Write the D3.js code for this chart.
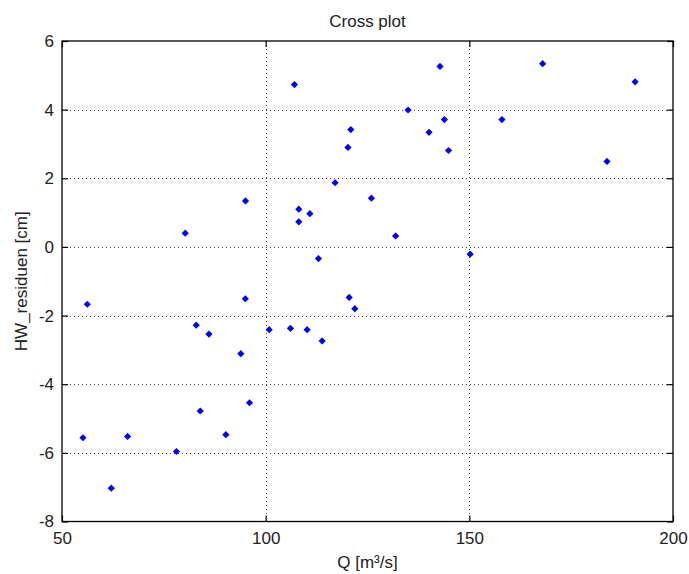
<!DOCTYPE html>
<html>
<head>
<meta charset="utf-8">
<script src="https://cdn.jsdelivr.net/npm/d3@7"></script>
<style>
  html, body { margin: 0; padding: 0; background: #fff; }
  svg { display: block; }
  text { font-family: "Liberation Sans", Arial, Helvetica, sans-serif; fill: #222; }
</style>
</head>
<body>
<svg id="chart" width="689" height="574"></svg>
<script>
// Discharge Q [m³/s] and water-level residual [cm] per event
const qValues = [
  107.07, 120.9, 120.2, 117.05, 95.05, 108.14, 110.85, 108.14, 80.25, 112.96,
  142.8, 168.0, 190.7, 134.96, 143.87, 158.0, 140.1, 144.9, 183.8, 125.96,
  131.9, 150.2, 56.2, 95.0, 82.95, 86.07, 93.9, 100.86, 106.09, 110.18,
  113.86, 120.5, 121.88, 83.93, 96.03, 90.23, 55.15, 66.1, 78.1, 62.1
];
const residuals = [
  4.73, 3.42, 2.90, 1.87, 1.34, 1.10, 0.97, 0.73, 0.40, -0.34,
  5.26, 5.34, 4.81, 3.99, 3.71, 3.71, 3.34, 2.81, 2.49, 1.42,
  0.32, -0.21, -1.67, -1.51, -2.28, -2.54, -3.11, -2.41, -2.37, -2.41,
  -2.74, -1.47, -1.80, -4.78, -4.54, -5.47, -5.56, -5.52, -5.96, -7.03
];
const xTicks = [50, 100, 150, 200];
const yTicks = [-8, -6, -4, -2, 0, 2, 4, 6];

const titleText = "Cross plot";
const xLabel = "Q [m\u00B3/s]";
const yLabel = "HW_residuen [cm]";

const svg = d3.select("#chart");
const plotLeft = 62, plotRight = 673, plotTop = 41, plotBottom = 521.5;
const tickLen = 6;
const fontSize = 17;
const plainNumber = d => String(d);   // hyphen-minus, as in the plot labels

const x = d3.scaleLinear().domain([50, 200]).range([plotLeft, plotRight]);
const y = d3.scaleLinear().domain([-8, 6]).range([plotBottom, plotTop]);

// dotted grid
const grid = svg.append("g")
  .attr("stroke", "#444")
  .attr("stroke-width", 1)
  .attr("stroke-dasharray", "1,3");
grid.selectAll("line.gx").data(xTicks.slice(1, -1)).join("line")
  .attr("class", "gx")
  .attr("x1", d => Math.round(x(d)) + 0.5).attr("x2", d => Math.round(x(d)) + 0.5)
  .attr("y1", plotTop).attr("y2", plotBottom);
grid.selectAll("line.gy").data(yTicks.slice(1, -1)).join("line")
  .attr("class", "gy")
  .attr("y1", d => Math.round(y(d)) + 0.5).attr("y2", d => Math.round(y(d)) + 0.5)
  .attr("x1", plotLeft).attr("x2", plotRight);

// axes: ticks point inward, labels outside
const axisStyle = g => {
  g.select(".domain").remove();
  g.selectAll(".tick line").attr("stroke", "#000").attr("stroke-width", 1.2);
  g.selectAll(".tick text")
    .style("font-size", fontSize + "px")
    .attr("fill", "#222");
};

svg.append("g")
  .attr("transform", `translate(0,${plotBottom})`)
  .call(d3.axisBottom(x).tickValues(xTicks).tickFormat(plainNumber)
    .tickSizeInner(-tickLen).tickSizeOuter(0).tickPadding(10))
  .call(axisStyle);

svg.append("g")
  .attr("transform", `translate(0,${plotTop})`)
  .call(d3.axisTop(x).tickValues(xTicks).tickFormat("")
    .tickSizeInner(-tickLen).tickSizeOuter(0))
  .call(axisStyle);

svg.append("g")
  .attr("transform", `translate(${plotLeft},0)`)
  .call(d3.axisLeft(y).tickValues(yTicks).tickFormat(plainNumber)
    .tickSizeInner(-tickLen).tickSizeOuter(0).tickPadding(8))
  .call(axisStyle);

svg.append("g")
  .attr("transform", `translate(${plotRight},0)`)
  .call(d3.axisRight(y).tickValues(yTicks).tickFormat("")
    .tickSizeInner(-tickLen).tickSizeOuter(0))
  .call(axisStyle);

// axes box
svg.append("rect")
  .attr("x", plotLeft).attr("y", plotTop)
  .attr("width", plotRight - plotLeft).attr("height", plotBottom - plotTop)
  .attr("fill", "none").attr("stroke", "#000").attr("stroke-width", 1.3);

// data points
const points = qValues.map((q, i) => ({ q, r: residuals[i] }));
const marker = d3.symbol().type(d3.symbolSquare).size(26);
svg.append("g").selectAll("path").data(points).join("path")
  .attr("d", marker)
  .attr("transform", d => `translate(${x(d.q)},${y(d.r)}) rotate(45)`)
  .attr("fill", "#0000ff");

// title and axis labels
svg.append("text")
  .attr("x", (plotLeft + plotRight) / 2).attr("y", 27)
  .attr("text-anchor", "middle")
  .style("font-size", fontSize + "px")
  .text(titleText);

svg.append("text")
  .attr("x", (plotLeft + plotRight) / 2).attr("y", 568)
  .attr("text-anchor", "middle")
  .style("font-size", fontSize + "px")
  .text(xLabel);

svg.append("text")
  .attr("transform", `translate(27,${(plotTop + plotBottom) / 2}) rotate(-90)`)
  .attr("text-anchor", "middle")
  .style("font-size", fontSize + "px")
  .text(yLabel);
</script>
</body>
</html>
